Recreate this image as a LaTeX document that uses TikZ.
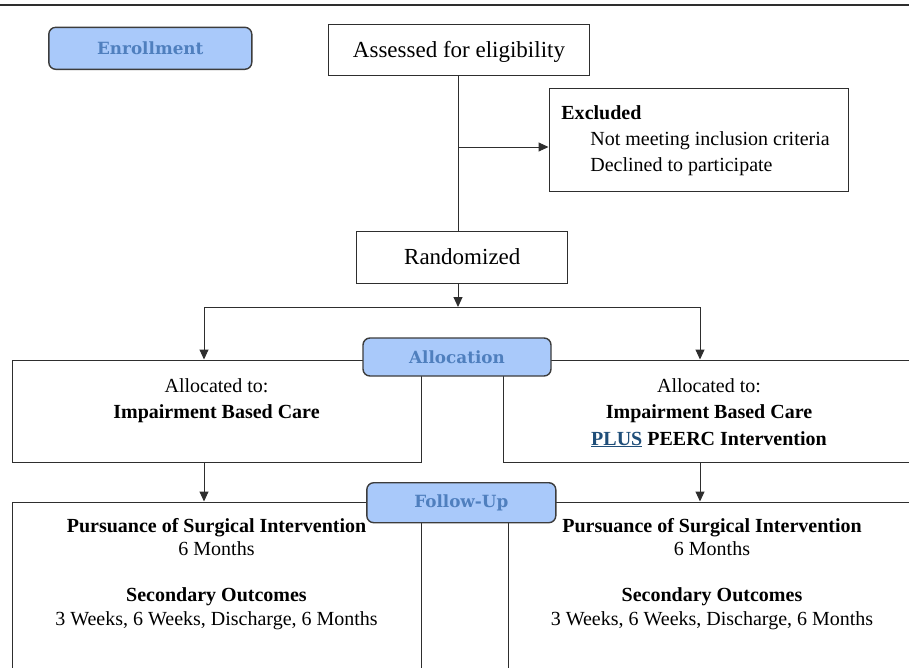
\documentclass[tikz,border=0pt]{standalone}
\usepackage{fontspec}
\setmainfont{Liberation Serif}
\newfontfamily\tagfont{DejaVu Serif}
\usepackage{tikz}
\usetikzlibrary{positioning}
\usetikzlibrary{shapes.geometric, arrows.meta}
\definecolor{tagfill}{HTML}{A9C9FA}
\definecolor{tagtext}{HTML}{4F7FBE}
\definecolor{tagline}{HTML}{3C3C3C}
\definecolor{boxline}{HTML}{2E2E2E}
\definecolor{plusblue}{HTML}{1F4E79}
\tikzstyle{arrow} = [line width=1pt,draw=boxline,-{Triangle[length=10pt,width=9pt]}]
\tikzstyle{link} = [line width=1pt,draw=boxline]
\tikzstyle{box} = [draw=boxline,line width=1pt,inner sep=0pt]
\tikzstyle{tag} = [draw=tagline,fill=tagfill,line width=1.4pt,rounded corners=7pt,inner sep=0pt,text=tagtext,font=\tagfont\bfseries\fontsize{16.8}{20}\selectfont]
\tikzstyle{txt} = [anchor=base,inner sep=0pt,font=\fontsize{20}{24}\selectfont]
\tikzstyle{txtb} = [txt,font=\fontsize{20}{24}\selectfont\bfseries]

\begin{document}
\begin{tikzpicture}[x=1pt,y=-1pt]
								%Frame
								\useasboundingbox (0,0) rectangle (909,667);
								\clip (0,0) rectangle (909,667);
								\draw[line width=2pt,draw=boxline] (0,5) -- (909,5);
								
								%Boxes
								\node[box,minimum width=261pt,minimum height=51pt] (assess) at (459,49.5) {};
								\node[box,minimum width=299pt,minimum height=103pt] (excl) at (698.5,139.7) {};
								\node[box,minimum width=211pt,minimum height=52pt,font=\fontsize{23}{27}\selectfont] (rand) at (462.3,257) {Randomized};
								\node[box,minimum width=409pt,minimum height=102pt] (allocL) at (216.5,411) {};
								\node[box,minimum width=412pt,minimum height=102pt] (allocR) at (709,411) {};
								\node[box,minimum width=409pt,minimum height=200pt] (outL) at (216.5,602) {};
								\node[box,minimum width=408pt,minimum height=200pt] (outR) at (712,602) {};
								
								%Coordinates
								\coordinate (exclJoin) at (458,147);
								\coordinate (split) at (458,307);
								\coordinate [left=254pt of split] (splitL);
								\coordinate [right=242pt of split] (splitR);
								
								%Arrows
								\draw[link] (assess.south -| exclJoin) -- (exclJoin |- rand.north);
								\draw[arrow] (exclJoin) -- (exclJoin -| excl.west);
								\draw[arrow] (split |- rand.south) -- (split);
								\draw[link] (splitL) -- (splitR);
								\draw[arrow] (splitL) -- (splitL |- allocL.north);
								\draw[arrow] (splitR) -- (splitR |- allocR.north);
								\draw[arrow] (splitL |- allocL.south) -- (splitL |- outL.north);
								\draw[arrow] (splitR |- allocR.south) -- (splitR |- outR.north);
								
								%Tags
								\node[tag,minimum width=203pt,minimum height=42pt] (enroll) at (150.3,48.3) {Enrollment};
								\node[tag,minimum width=188pt,minimum height=38pt] (allocTag) at (457,357) {Allocation};
								\node[tag,minimum width=189pt,minimum height=40pt] (followTag) at (461.3,502.7) {Follow-Up};
								
								%TextNodes
								\node[txt,font=\fontsize{23}{27}\selectfont] (assessText) at ([yshift=-33.5pt]assess.north) {Assessed for eligibility};
								\node[txtb,anchor=base west] (exclHead) at ([xshift=12.7pt,yshift=-32pt]excl.north west) {Excluded};
								\node[txt,anchor=base west] (exclOne) at ([xshift=41.7pt,yshift=-57.5pt]excl.north west) {Not meeting inclusion criteria};
								\node[txt,anchor=base west] (exclTwo) at ([xshift=41.7pt,yshift=-83.5pt]excl.north west) {Declined to participate};
								
								\node[txt] (allocLOne) at ([yshift=-32.5pt]allocL.north) {Allocated to:};
								\node[txtb] (allocLTwo) at ([yshift=-58.5pt]allocL.north) {Impairment Based Care};
								\node[txt] (allocROne) at ([yshift=-32.5pt]allocR.north) {Allocated to:};
								\node[txtb] (allocRTwo) at ([yshift=-58.5pt]allocR.north) {Impairment Based Care};
								\node[txtb] (allocRThree) at ([yshift=-85.5pt]allocR.north) {\textcolor{plusblue}{\underline{PLUS}} PEERC Intervention};
								
								\node[txtb] (outLOne) at ([yshift=-31pt]outL.north) {Pursuance of Surgical Intervention};
								\node[txt] (outLTwo) at ([yshift=-54pt]outL.north) {6 Months};
								\node[txtb] (outLThree) at ([yshift=-100pt]outL.north) {Secondary Outcomes};
								\node[txt] (outLFour) at ([yshift=-123.5pt]outL.north) {3 Weeks, 6 Weeks, Discharge, 6 Months};
								\node[txtb] (outROne) at ([yshift=-31pt]outR.north) {Pursuance of Surgical Intervention};
								\node[txt] (outRTwo) at ([yshift=-54pt]outR.north) {6 Months};
								\node[txtb] (outRThree) at ([yshift=-100pt]outR.north) {Secondary Outcomes};
								\node[txt] (outRFour) at ([yshift=-123.5pt]outR.north) {3 Weeks, 6 Weeks, Discharge, 6 Months};
\end{tikzpicture}
\end{document}
